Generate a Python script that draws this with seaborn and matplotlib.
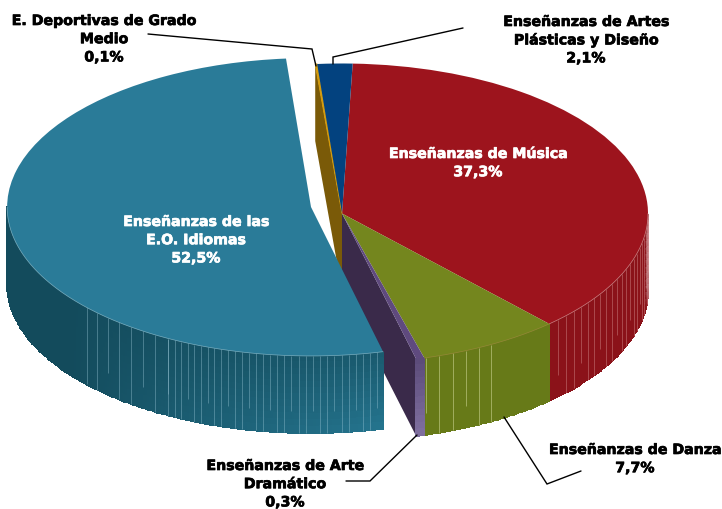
# 3D style pie chart - Enseñanzas de Régimen Especial
import numpy as np
import matplotlib
matplotlib.use("Agg")
import matplotlib.pyplot as plt
import matplotlib.patheffects as pe
import seaborn as sns

# ==============================
# DATA
# ==============================
categories = [
    "Enseñanzas de Música",
    "Enseñanzas de Danza",
    "Enseñanzas de Arte Dramático",
    "Enseñanzas de las E.O. Idiomas",
    "E. Deportivas de Grado Medio",
    "Enseñanzas de Artes Plásticas y Diseño",
]
values = [37.3, 7.7, 0.3, 52.5, 0.1, 2.1]
value_labels = ["37,3%", "7,7%", "0,3%", "52,5%", "0,1%", "2,1%"]
top_colors = ["#9D141D", "#74861E", "#5F4A7E", "#2A7B98", "#D49A0A", "#03427F"]

# ==============================
# STYLE / GEOMETRY (pixels of the 722x509 picture)
# ==============================
sns.set_style("white")
plt.rcParams["font.family"] = ["DejaVu Sans"]

W, H = 722, 509
CX, CY = 342, 213.5    # centre of main body
RX, RY = 306, 150      # ellipse radii
DEPTH = 77 / RY
START = 2.2            # clockwise from 12 o'clock
TEAL = 3               # index of the pulled out slice
TEAL_R = 0.993
TEAL_DX = (311 - CX) / RX
TEAL_DY = (CY - 207) / RY
TEAL_TILT = 1.0
# the original is a perspective view, so the slice edges sit a little off
# the plain angles
EDGE_TILT = np.array([-0.2, 0.9, 0.2, 0.7, 0.7, 0.7, -0.2])

fig = plt.figure(figsize=(W / 100, H / 100), dpi=100)
ax = fig.add_axes([0, 0, 1, 1])

# slice limits, clockwise degrees from the top
plain = START + np.cumsum([0] + values) * 3.6
edges = plain + EDGE_TILT
teal_a = plain[TEAL] + TEAL_TILT
teal_b = plain[TEAL + 1] + TEAL_TILT


def rim(theta, dx=0.0, dy=0.0, r=1.0):
    t = np.radians(theta)
    return r * np.sin(t) + dx, r * np.cos(t) + dy


def mix(c1, c2, t):
    c1 = np.array(matplotlib.colors.to_rgb(c1))
    c2 = np.array(matplotlib.colors.to_rgb(c2))
    return c1[None, None] + (c2 - c1)[None, None] * np.asarray(t)[..., None]


def wall(a, b, col_fn, dx=0.0, dy=0.0, r=1.0, z=2, n=None):
    n = n or max(2, int(abs(b - a) * 2))
    th = np.linspace(a, b, n + 1)
    x, y = rim(th, dx, dy, r)
    lev = np.linspace(0, 1, 13)
    X = np.tile(x, (13, 1))
    Y = y[None, :] - DEPTH * lev[:, None]
    mid_th = (th[:-1] + th[1:]) / 2
    mid_lev = (lev[:-1] + lev[1:]) / 2
    C = col_fn(*np.meshgrid(mid_th, mid_lev))
    ax.pcolormesh(X, Y, C, shading="flat", edgecolors="face", linewidth=0.3, zorder=z)


def streaks(thetas, dx=0.0, dy=0.0, r=1.0, z=2.5, color="white", alpha=0.33):
    for i, t in enumerate(thetas):
        x, y = rim(t, dx, dy, r)
        frac = 1.0 if i % 3 else 0.72
        ax.plot([x, x], [y, y - DEPTH * frac], color=color, lw=0.6,
                alpha=alpha, solid_capstyle="butt", zorder=z)


def cut(theta, color, z=1):
    x, y = rim(theta)
    ax.fill([0, x, x, 0], [0, y, y - DEPTH, -DEPTH], color=color, lw=0, zorder=z)


# ==============================
# CUT FACES
# ==============================
cut(edges[4], "#7A5A08")
cut(edges[3], "#3A2A4A")

# ==============================
# OUTER WALLS
# ==============================
red_wall = lambda th, lev: mix("#8B1219", "#B5767B", np.clip((98 - th) / 8, 0, 1) * 0.9)
green_wall = lambda th, lev: mix("#677A18", "#677A18", np.zeros_like(th))
purple_wall = lambda th, lev: mix("#5A4A78", "#8070A0", lev)
teal_wall = lambda th, lev: mix(
    "#134B5C", "#25758F", np.clip((232 - th) / 66, 0, 1) * (0.35 + 0.65 * lev))

wall(90, edges[1], red_wall)
wall(edges[1], edges[2], green_wall)
wall(edges[2], edges[3], purple_wall, n=3)
wall(teal_a, 270, teal_wall, TEAL_DX, TEAL_DY, TEAL_R, z=3)

streaks(np.arange(edges[1] - 2.4, 90, -2.1), color="#E8B0B0", alpha=0.4)
streaks(np.arange(edges[2] - 0.3, edges[2] - 14, -2.65), color="#D8DFA0", alpha=0.6)
streaks(np.r_[np.arange(teal_a + 1.2, 208, 1.35), np.arange(208, 228, 2.8)],
        TEAL_DX, TEAL_DY, TEAL_R, z=3.5, color="#9CC8D8", alpha=0.45)

# ==============================
# TOP FACES
# ==============================
wedges, _ = ax.pie(values, colors=top_colors, startangle=90 - START, counterclock=False,
                   wedgeprops={"linewidth": 0})
for i, w in enumerate(wedges):
    w.set_zorder(5)
    w.set_theta1(90 - edges[i + 1])
    w.set_theta2(90 - edges[i])
wedges[TEAL].set_center((TEAL_DX, TEAL_DY))
wedges[TEAL].set_radius(TEAL_R)
wedges[TEAL].set_theta1(90 - teal_b)
wedges[TEAL].set_theta2(90 - teal_a)
wedges[TEAL].set_zorder(4)
# gold sliver is too thin without an outline
wedges[4].set_linewidth(0.7)
wedges[4].set_edgecolor(top_colors[4])

# light line along the front rims
for a, b, dx, dy, r, col in [
    (90, edges[1], 0, 0, 1.0, "#D9A0A0"),
    (edges[1], edges[2], 0, 0, 1.0, "#A08A40"),
    (teal_a, 270, TEAL_DX, TEAL_DY, TEAL_R, "#8FC0D0"),
]:
    th = np.linspace(a, b, 200)
    x, y = rim(th, dx, dy, r)
    ax.plot(x, y, color=col, lw=0.5, alpha=0.8, zorder=6)

ax.set_aspect("auto")
ax.set_xlim(-CX / RX, (W - CX) / RX)
ax.set_ylim((CY - H) / RY, CY / RY)
ax.axis("off")

# ==============================
# LABELS AND LEADER LINES
# ==============================
ov = fig.add_axes([0, 0, 1, 1], facecolor="none")
ov.set_xlim(0, W)
ov.set_ylim(H, 0)
ov.axis("off")

label_lines = [
    (["Enseñanzas de Música"], 478, 154, "white", 0),
    (["Enseñanzas de Danza"], 635, 450, "black", 1),
    (["Enseñanzas de Arte", "Dramático"], 285, 466, "black", 2),
    (["Enseñanzas de las", "E.O. Idiomas"], 196, 222, "white", 3),
    (["E. Deportivas de Grado", "Medio"], 104, 21, "black", 4),
    (["Enseñanzas de Artes", "Plásticas y Diseño"], 586, 22, "black", 5),
]
for lines, x, y, col, idx in label_lines:
    for j, line in enumerate(lines + [value_labels[idx]]):
        ov.text(x, y + j * 18.2, line, ha="center", va="center", color=col,
                fontsize=10.2, fontweight="bold",
                path_effects=[pe.withStroke(linewidth=0.5, foreground=col)])

leaders = [
    ([148, 312, 316], [34, 49, 66]),
    ([463, 333, 333], [28, 57, 64]),
    ([504, 547, 581], [417, 484, 471]),
    ([417, 370, 346], [435, 481, 481]),
]
for xs, ys in leaders:
    ov.plot(xs, ys, color="black", lw=1.0, solid_joinstyle="miter")

fig.savefig("out.png", dpi=100)
